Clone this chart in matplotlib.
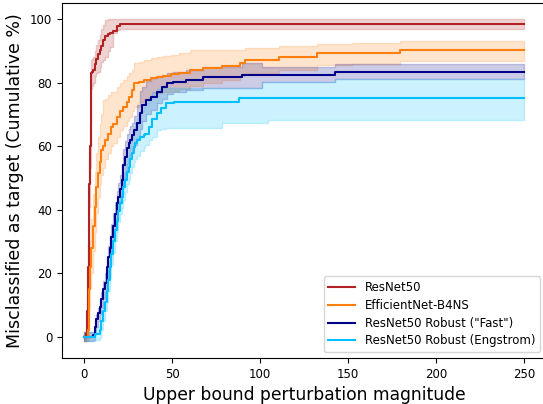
import matplotlib
matplotlib.use("Agg")
import matplotlib.pyplot as plt

# ResNet50
r_x  = [0, 1.2, 1.7, 2.2, 2.6, 3.1, 3.6, 4.1, 4.6, 5, 6, 7, 7.9, 8.9, 9.9, 10.8, 11.8, 13.7, 14.7, 16.6, 18.5, 20.5, 250]
r_y  = [0, 1, 8, 22, 36, 48, 60, 83, 83.5, 84, 86, 87.5, 89, 90.3, 91.5, 93.5, 94.7, 95.2, 95.5, 96.3, 97.9, 98.4, 98.4]
r_lo = [-1.5, -0.5, 4, 16, 29, 41, 53, 78, 79, 80, 82, 83, 83.5, 85, 86.5, 87.2, 88.2, 90, 91.4, 95.6, 96.6, 96.8, 96.8]
r_hi = [1.5, 3, 13, 29, 43, 56, 67, 87, 87.5, 88, 90, 92, 93.5, 95, 97, 98.2, 99.8, 100, 100, 100, 100, 100, 100]

# EfficientNet-B4NS
e_x  = [0, 2.2, 2.6, 3.1, 3.6, 4.1, 5, 6, 7, 7.9, 8.9, 9.9, 10.8, 11.8, 13.7, 15.6, 16.6, 18.5, 20.5, 22.4, 24.3, 25.3,
        27.2, 28.2, 31.1, 34, 37.8, 41.7, 45, 49.4, 54.2, 60, 67.7, 78.3, 88.9, 91.3, 111, 132.2, 152.5, 179.5, 250]
e_y  = [0, 2, 8, 15, 22, 28, 35, 41, 47, 51.5, 55, 58.8, 60, 62, 64, 66.2, 67, 69.3, 71, 72.5, 74, 75.6,
        77.7, 79.8, 80.3, 80.9, 81.4, 81.9, 82.1, 82.6, 83, 84, 84.6, 85.3, 86.1, 87.2, 88.2, 89.3, 89.3, 90.3, 90.3]
e_hi = [1.5, 6, 14, 22, 30, 37, 45, 52, 58, 63, 67, 70, 74.6, 75, 76, 77, 77.2, 78.5, 80, 80.9, 82, 83,
        84, 86.1, 86.5, 87.2, 87.7, 88.2, 88.5, 88.8, 89.5, 90.3, 90.3, 90.3, 90.3, 90.9, 91.5, 92.1, 92.4, 93.2, 93.2]
e_lo = [-1.5, -1, 3, 9, 15, 20, 27, 33, 39, 44, 48, 51, 53, 56, 58, 60, 61, 63, 65, 66.5, 68, 69.3,
        71, 72.5, 74, 74.6, 75.5, 76.7, 77, 77.5, 78, 79, 80, 81, 82, 83, 84, 85.5, 86, 86.9, 86.9]

# ResNet50 Robust ("Fast")
n_x  = [0, 5, 6, 7, 7.9, 8.9, 9.9, 10.8, 11.8, 12.8, 13.7, 14.7, 15.6, 16.6, 17.6, 18.5, 19.5, 20.5, 21.4, 22.4, 23.4,
        24.3, 25.3, 26.2, 27.2, 28.2, 30.1, 32, 33, 35.4, 38.3, 41.7, 44.1, 47.4, 50.3, 58, 67.7, 89.8, 101.4, 142.8, 250]
n_y  = [0, 0.5, 3, 5.5, 7.5, 9.5, 12, 15, 17, 22, 25, 28, 31.5, 35, 38.5, 42, 44, 46.5, 49.5, 54, 56.5, 59.5, 61, 62, 63.5, 65,
        67.2, 70.5, 73, 74.6, 75.6, 77.2, 78.8, 79.8, 80.3, 80.9, 81.9, 82.4, 82.4, 83.5, 83.5]
n_hi = [1.5, 1.5, 4.5, 7, 9, 11.5, 14, 17.5, 20, 25, 28.5, 32, 35.5, 39, 42.5, 46, 48.5, 51, 54.5, 59, 61.5, 64, 65.5, 66.5, 67.2, 69.5,
        73, 77.5, 78.8, 80.5, 81.4, 82, 82.5, 83, 83.5, 84, 85, 86.1, 85.1, 85.8, 85.8]
n_lo = [-1.5, -1, 1, 3, 5, 7, 9, 12, 14, 18.5, 21, 24, 27.5, 31, 34, 37.5, 40, 42, 45, 49, 51.5, 54.5, 56, 57.5, 59, 60.5,
        62.5, 65.5, 68, 70, 71.5, 73.5, 75, 76.5, 77, 77.7, 78.3, 78.3, 80.3, 81.1, 81.1]

# ResNet50 Robust (Engstrom)
l_x  = [0, 6, 8.9, 9.9, 10.8, 11.8, 12.8, 13.7, 14.7, 15.6, 16.6, 17.6, 18.5, 19.5, 20.5, 21.4, 22.4, 23.4, 24.3, 25.3,
        26.2, 27.2, 28.2, 29.1, 30.1, 32, 34, 34.9, 36.8, 38.8, 41.2, 43.6, 46.5, 51.3, 78.3, 87.9, 101.4, 104.3, 142.8, 250]
l_y  = [0, 1, 2, 5, 8, 11, 14.5, 18, 22, 26, 30, 33.6, 36.5, 39.5, 42, 44, 47, 49.5, 52, 53.6, 56, 58, 59.9, 61, 62,
        63, 63.5, 64, 66, 68.5, 70.5, 72, 73.5, 74, 74, 75.1, 75.1, 75.1, 75.1, 75.1]
l_hi = [1.5, 3, 4.5, 8, 11, 14, 18, 21.5, 25.5, 29.5, 33.5, 37, 40, 43, 46, 48.5, 51.5, 54, 57, 59, 61.5, 64, 66, 67.5, 69,
        71, 72.5, 73.5, 75.5, 77, 78, 78.3, 78.3, 78.3, 78.3, 78.3, 80.3, 80.3, 81.1, 81.1]
l_lo = [-1.5, -1, -0.5, 2, 5, 8, 11, 14.5, 18.5, 22.5, 26.5, 30, 33, 36, 38.5, 40.5, 43, 45.5, 48, 49.5, 51.5, 53.5, 55, 56, 57,
        58.5, 59.5, 60.5, 62, 63, 65.1, 65.5, 65.7, 65.7, 67.2, 67.2, 67.2, 68.3, 68.3, 68.3]

labels = ["ResNet50", "EfficientNet-B4NS", 'ResNet50 Robust ("Fast")', "ResNet50 Robust (Engstrom)"]
colors = ["#b22222", "#ff7f0e", "#00008b", "#00bfff"]

series = [(r_x, r_y, r_lo, r_hi), (e_x, e_y, e_lo, e_hi),
          (n_x, n_y, n_lo, n_hi), (l_x, l_y, l_lo, l_hi)]

fig = plt.figure(figsize=(5.43, 4.04), dpi=100)
ax = fig.add_axes([62/543, 46/404, (546-62)/543, (358-3)/404])

for (x, y, lo, hi), lab, c in zip(series, labels, colors):
    ax.fill_between(x, lo, hi, step="post", color=c, alpha=0.2, linewidth=1)
    ax.plot(x, y, drawstyle="steps-post", color=c, linewidth=1.5, label=lab)

ax.set_xlim(-12.5, 262.5)
ax.set_ylim(-6.7, 105.1)
ax.set_xticks([0, 50, 100, 150, 200, 250])
ax.set_yticks([0, 20, 40, 60, 80, 100])
ax.tick_params(labelsize=8.5)
ax.set_xlabel("Upper bound perturbation magnitude", fontsize=12.3)
ax.set_ylabel("Misclassified as target (Cumulative %)", fontsize=12.5)
ax.legend(loc="lower right", fontsize=8.5, labelspacing=0.4, handlelength=2.3)

fig.savefig("out.png", dpi=100)
